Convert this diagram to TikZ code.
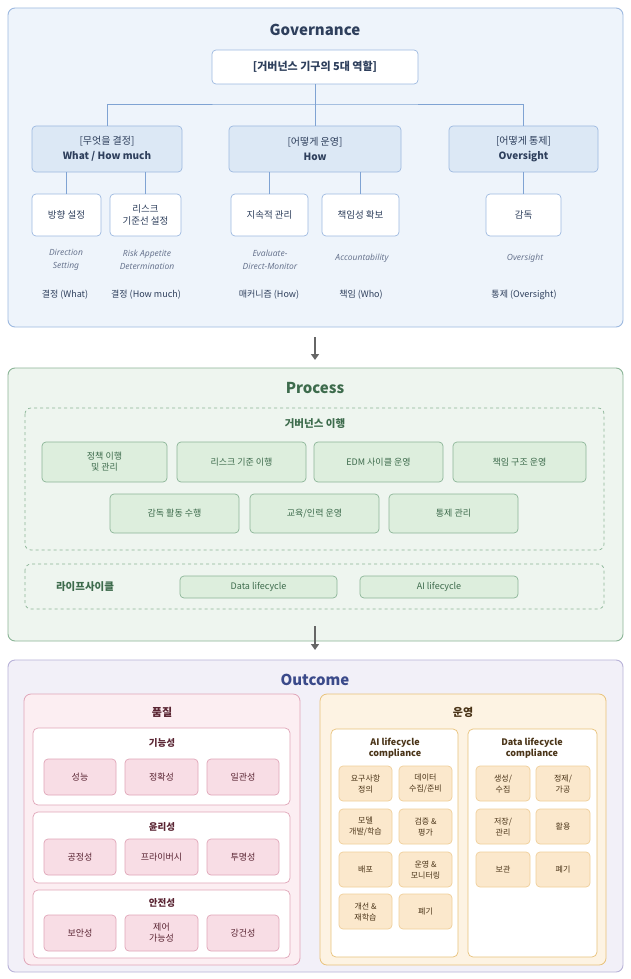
\documentclass[tikz,border=0pt]{standalone}
\usepackage{fontspec}
\setmainfont{Noto Sans CJK KR}
\newfontfamily\capfont{Noto Sans}
\usetikzlibrary{arrows.meta}
\definecolor{gbg}{HTML}{EEF4FB}\definecolor{gbd}{HTML}{9DB9E0}\definecolor{gmid}{HTML}{DCE8F5}
\definecolor{gtx}{HTML}{2E3F5C}\definecolor{gln}{HTML}{7FA3D3}\definecolor{gsub}{HTML}{6A7690}
\definecolor{pbg}{HTML}{EEF5EF}\definecolor{pbd}{HTML}{8BB597}\definecolor{pfill}{HTML}{DDEEDD}\definecolor{ptx}{HTML}{3D6B4C}
\definecolor{obg}{HTML}{F2F0F8}\definecolor{obd}{HTML}{B8B2D8}\definecolor{otx}{HTML}{3B4A8A}
\definecolor{qbg}{HTML}{FCEEF2}\definecolor{qbd}{HTML}{E0A5B8}\definecolor{qfill}{HTML}{F8DDE5}\definecolor{qtx}{HTML}{5A2533}
\definecolor{ubg}{HTML}{FDF3E3}\definecolor{ubd}{HTML}{E8C27A}\definecolor{ufill}{HTML}{FBE8CC}\definecolor{ufbd}{HTML}{F0CF9A}\definecolor{utx}{HTML}{4A3418}
\newcommand{\bx}[7]{\node[#1,minimum width={(#5-#3)*1pt},minimum height={(#6-#4)*1pt}] (#2) at ({(#3+#5)/2},{(#4+#6)/2}) {#7};}
\tikzset{
 panel/.style={draw,rounded corners=7pt,line width=0.9pt,inner sep=0pt},
 base/.style={rounded corners=4pt,line width=0.7pt,inner sep=1pt,align=center,font=\fontsize{9}{11}\selectfont},
 gtop/.style={base,draw=gbd,fill=white,text=gtx,font=\fontsize{11}{13}\selectfont\bfseries},
 gmidb/.style={base,draw=gbd,fill=gmid,text=gtx,font=\fontsize{10}{15}\selectfont},
 gleaf/.style={base,draw=gbd,fill=white,text=gtx,font=\fontsize{9.5}{12}\selectfont},
 gcap/.style={align=center,text=gsub,font=\capfont\fontsize{8.5}{13}\selectfont\itshape},
 gbot/.style={text=gtx,font=\fontsize{9}{10}\selectfont},
 gcon/.style={draw=gln,line width=0.8pt},
 pbox/.style={base,draw=pbd,fill=pfill,text=ptx},
 dashbox/.style={draw=pbd,dashed,rounded corners=6pt,line width=0.7pt},
 ttl/.style={font=\fontsize{15}{17}\selectfont\bfseries},
 qwhite/.style={draw=qbd,fill=white,rounded corners=5pt,line width=0.7pt},
 qbox/.style={base,draw=qbd,fill=qfill,text=qtx},
 ubox/.style={base,draw=ufbd,fill=ufill,text=utx,font=\fontsize{8}{11}\selectfont},
 uwhite/.style={draw=ubd,fill=white,rounded corners=5pt,line width=0.7pt},
 flow/.style={draw=gray!80!black,line width=1.6pt,-{Triangle[length=6pt,width=8pt]}},
}
\begin{document}
\begin{tikzpicture}[x=1pt,y=-1pt]
\useasboundingbox[fill=white] (0,0) rectangle (631,979);
% ---------- Governance
\draw[panel,draw=gbd,fill=gbg] (8,8) rectangle (623,327);
\node[ttl,text=gtx] (gt) at (315,30) {Governance};
\bx{gtop}{top}{212}{50}{418}{84}{[거버넌스 기구의 5대 역할]}
\bx{gmidb}{ma}{32}{126}{182}{172}{[무엇을 결정]\\ \bfseries What / How much}
\bx{gmidb}{mb}{229}{126}{401}{172}{[어떻게 운영]\\ \bfseries How}
\bx{gmidb}{mc}{449}{126}{598}{172}{[어떻게 통제]\\ \bfseries Oversight}
\coordinate (j) at (315,104);
\draw[gcon] (top.south) -- (j);
\draw[gcon] (ma.north) |- (j) -| (mc.north);
\draw[gcon] (j) -- (mb.north);
\bx{gleaf}{l1}{32}{194}{101}{236}{방향 설정}
\bx{gleaf}{l2}{110}{194}{181}{236}{리스크\\기준선 설정}
\bx{gleaf}{l3}{231}{194}{308}{236}{지속적 관리}
\bx{gleaf}{l4}{322}{194}{399}{236}{책임성 확보}
\bx{gleaf}{l5}{486}{194}{561}{236}{감독}
\draw[gcon] (l1.north) -- (l1.north |- ma.south);
\draw[gcon] (l2.north) -- (l2.north |- ma.south);
\draw[gcon] (l3.north) -- (l3.north |- mb.south);
\draw[gcon] (l4.north) -- (l4.north |- mb.south);
\draw[gcon] (l5.north) -- (l5.north |- mc.south);
\node[gcap] (c1) at (66,260) {Direction\\Setting};
\node[gcap] (c2) at (147,260) {Risk Appetite\\Determination};
\node[gcap] (c3) at (270,260) {Evaluate-\\Direct-Monitor};
\node[gcap] (c4) at (362,258) {Accountability};
\node[gcap] (c5) at (525,258) {Oversight};
\node[gbot] (b1) at (65,295) {결정 (What)};
\node[gbot] (b2) at (146,295) {결정 (How much)};
\node[gbot] (b3) at (269,295) {매커니즘 (How)};
\node[gbot] (b4) at (361,295) {책임 (Who)};
\node[gbot] (b5) at (524,295) {통제 (Oversight)};
% ---------- Process
\coordinate (a1s) at (315,337); \coordinate (a1e) at (315,360);
\draw[flow] (a1s) -- (a1e);
\draw[panel,draw=pbd,fill=pbg] (8,368) rectangle (623,641);
\node[ttl,text=ptx] (pt) at (315,388) {Process};
\draw[dashbox] (25,408) rectangle (604,550);
\node[text=ptx,font=\fontsize{10.5}{12}\selectfont\bfseries] (pgt) at (315,424) {거버넌스 이행};
\bx{pbox}{p1}{42}{442}{167}{482}{정책 이행\\및 관리}
\bx{pbox}{p2}{177}{442}{306}{482}{리스크 기준 이행}
\bx{pbox}{p3}{314}{442}{443}{482}{EDM 사이클 운영}
\bx{pbox}{p4}{453}{442}{586}{482}{책임 구조 운영}
\bx{pbox}{p5}{110}{494}{239}{533}{감독 활동 수행}
\bx{pbox}{p6}{250}{494}{379}{533}{교육/인력 운영}
\bx{pbox}{p7}{389}{494}{518}{533}{통제 관리}
\draw[dashbox] (25,564) rectangle (604,609);
\node[text=ptx,font=\fontsize{10.5}{12}\selectfont\bfseries] (lc) at (85,587) {라이프사이클};
\bx{pbox}{d1}{180}{576}{337}{598}{Data lifecycle}
\bx{pbox}{d2}{360}{576}{518}{598}{AI lifecycle}
% ---------- Outcome
\coordinate (a2s) at (315,626); \coordinate (a2e) at (315,650);
\draw[flow] (a2s) -- (a2e);
\draw[panel,draw=obd,fill=obg] (8,660) rectangle (623,972);
\node[ttl,text=otx] (ot) at (315,680) {Outcome};
\draw[panel,draw=qbd,fill=qbg,line width=0.8pt] (24,694) rectangle (300,965);
\node[text=qtx,font=\fontsize{11}{13}\selectfont\bfseries] (qt) at (162,712) {품질};
\draw[qwhite] (33,728) rectangle (290,805);
\draw[qwhite] (33,812) rectangle (290,883);
\draw[qwhite] (33,890) rectangle (290,958);
\node[text=qtx,font=\fontsize{9.5}{11}\selectfont\bfseries] (q1) at (162,743) {기능성};
\node[text=qtx,font=\fontsize{9.5}{11}\selectfont\bfseries] (q2) at (162,827) {윤리성};
\node[text=qtx,font=\fontsize{9.5}{11}\selectfont\bfseries] (q3) at (162,903) {안전성};
\bx{qbox}{q11}{44}{759}{116}{795}{성능}
\bx{qbox}{q12}{125}{759}{198}{795}{정확성}
\bx{qbox}{q13}{207}{759}{279}{795}{일관성}
\bx{qbox}{q21}{44}{839}{116}{875}{공정성}
\bx{qbox}{q22}{125}{839}{198}{875}{프라이버시}
\bx{qbox}{q23}{207}{839}{279}{875}{투명성}
\bx{qbox}{q31}{44}{915}{116}{951}{보안성}
\bx{qbox}{q32}{125}{915}{198}{951}{제어\\가능성}
\bx{qbox}{q33}{207}{915}{279}{951}{강건성}
\draw[panel,draw=ubd,fill=ubg,line width=0.8pt] (320,694) rectangle (606,965);
\node[text=utx,font=\fontsize{11}{13}\selectfont\bfseries] (ut) at (463,712) {운영};
\draw[uwhite] (331,729) rectangle (458,957);
\draw[uwhite] (468,729) rectangle (597,957);
\node[align=center,text=utx,font=\fontsize{9}{11.5}\selectfont\bfseries] (ua) at (395,748) {AI lifecycle\\compliance};
\node[align=center,text=utx,font=\fontsize{9}{11.5}\selectfont\bfseries] (ud) at (532,748) {Data lifecycle\\compliance};
\bx{ubox}{a1}{339}{766}{392}{801}{요구사항\\정의}
\bx{ubox}{a2}{399}{766}{452}{801}{데이터\\수집/준비}
\bx{ubox}{a3}{339}{809}{392}{844}{모델\\개발/학습}
\bx{ubox}{a4}{399}{809}{452}{844}{검증 \&\\평가}
\bx{ubox}{a5}{339}{852}{392}{887}{배포}
\bx{ubox}{a6}{399}{852}{452}{887}{운영 \&\\모니터링}
\bx{ubox}{a7}{339}{894}{392}{929}{개선 \&\\재학습}
\bx{ubox}{a8}{399}{894}{452}{929}{폐기}
\bx{ubox}{e1}{476}{766}{530}{801}{생성/\\수집}
\bx{ubox}{e2}{536}{766}{590}{801}{정제/\\가공}
\bx{ubox}{e3}{476}{809}{530}{844}{저장/\\관리}
\bx{ubox}{e4}{536}{809}{590}{844}{활용}
\bx{ubox}{e5}{476}{852}{530}{887}{보관}
\bx{ubox}{e6}{536}{852}{590}{887}{폐기}
\end{tikzpicture}
\end{document}
